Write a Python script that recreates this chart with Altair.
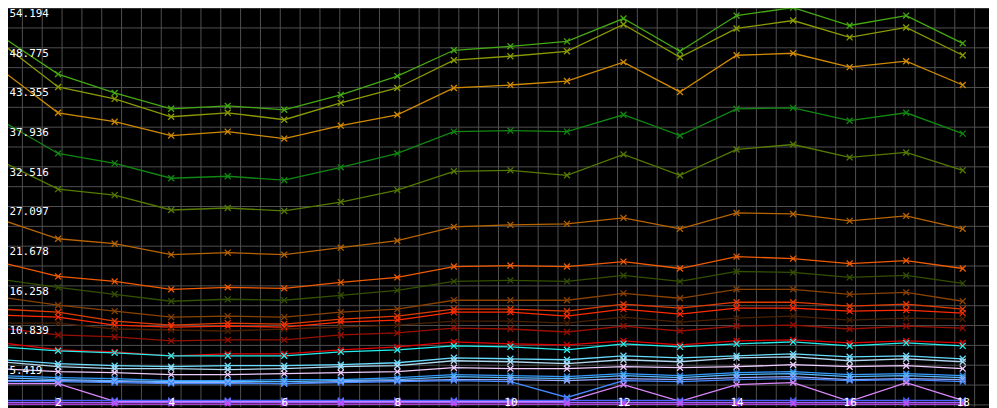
import altair as alt
import pandas as pd

# x positions of the samples
x_index = list(range(1, 19))

# series values
s01 = [50.265, 45.117, 42.542, 40.375, 40.781, 40.239, 42.271, 44.846, 48.368, 48.910, 49.588, 52.704, 48.233, 53.110, 54.194, 51.755, 53.110, 49.317]
s02 = [49.317, 43.355, 41.729, 39.291, 39.833, 38.884, 41.187, 43.220, 47.013, 47.555, 48.233, 51.891, 47.420, 51.349, 52.433, 50.129, 51.484, 47.691]
s03 = [45.658, 39.833, 38.613, 36.716, 37.258, 36.310, 38.071, 39.562, 43.220, 43.626, 44.168, 46.742, 42.678, 47.691, 47.962, 46.065, 46.878, 43.626]
s04 = [38.749, 34.278, 32.923, 30.891, 31.162, 30.620, 32.381, 34.278, 37.258, 37.394, 37.258, 39.562, 36.716, 40.375, 40.510, 38.749, 39.833, 36.987]
s05 = [33.194, 29.400, 28.587, 26.555, 26.826, 26.420, 27.639, 29.265, 31.839, 31.974, 31.297, 34.142, 31.297, 34.820, 35.497, 33.736, 34.413, 31.974]
s06 = [25.200, 22.626, 21.949, 20.458, 20.729, 20.458, 21.407, 22.355, 24.252, 24.523, 24.658, 25.471, 23.981, 26.149, 26.013, 25.065, 25.742, 23.981]
s07 = [19.374, 17.478, 16.800, 15.716, 15.987, 15.852, 16.665, 17.342, 18.832, 18.968, 18.832, 19.510, 18.561, 20.187, 19.916, 19.239, 19.645, 18.561]
s08 = [17.071, 15.987, 15.039, 14.090, 14.361, 14.226, 14.903, 15.581, 16.800, 16.936, 16.800, 17.613, 16.800, 18.155, 18.020, 17.342, 17.613, 16.529]
s09 = [14.632, 13.549, 12.736, 11.923, 12.058, 11.923, 12.600, 13.007, 14.226, 14.226, 14.226, 15.174, 14.497, 15.716, 15.716, 15.039, 15.310, 14.090]
s10 = [13.007, 12.600, 11.381, 10.839, 11.110, 10.974, 11.652, 12.058, 13.007, 13.007, 12.736, 13.684, 13.142, 13.955, 13.955, 13.413, 13.684, 13.007]
s11 = [12.194, 11.923, 10.839, 10.568, 10.703, 10.568, 11.245, 11.516, 12.600, 12.600, 12.058, 13.007, 12.329, 13.142, 13.142, 12.736, 12.871, 12.465]
s12 = [11.110, 11.110, 10.297, 10.161, 10.026, 10.297, 10.568, 10.839, 11.381, 11.381, 11.110, 11.923, 11.245, 11.787, 12.058, 11.516, 11.787, 11.652]
s13 = [10.432, 9.484, 9.213, 8.671, 8.807, 8.807, 9.484, 9.755, 10.432, 10.297, 9.890, 10.703, 10.026, 10.703, 10.839, 10.297, 10.703, 10.432]
s14 = [8.400, 7.452, 7.181, 6.639, 6.910, 6.910, 7.452, 7.858, 8.536, 8.265, 8.129, 8.671, 8.129, 8.671, 8.807, 8.400, 8.671, 8.400]
s15 = [7.858, 7.316, 7.045, 6.639, 6.639, 6.639, 7.181, 7.452, 7.994, 7.858, 7.452, 8.265, 7.858, 8.265, 8.536, 7.994, 8.400, 7.994]
s16 = [6.097, 5.555, 5.284, 5.148, 5.284, 5.284, 5.419, 5.690, 6.368, 6.232, 6.097, 6.639, 6.368, 6.639, 6.910, 6.503, 6.639, 6.232]
s17 = [5.826, 5.148, 4.877, 4.877, 4.742, 4.877, 5.148, 5.284, 5.961, 5.826, 5.555, 6.097, 5.826, 6.368, 6.503, 5.961, 6.232, 5.826]
s18 = [4.877, 4.471, 4.336, 4.065, 4.065, 4.200, 4.336, 4.471, 5.013, 4.877, 4.877, 5.148, 5.013, 5.148, 5.419, 5.148, 5.284, 4.877]
s19 = [3.929, 3.658, 3.523, 3.252, 3.252, 3.387, 3.387, 3.658, 4.065, 3.929, 3.794, 4.200, 3.929, 4.336, 4.471, 4.065, 4.200, 3.929]
s20 = [3.658, 3.387, 3.252, 3.116, 3.116, 3.116, 3.252, 3.387, 3.794, 3.658, 3.523, 3.929, 3.658, 4.065, 4.200, 3.794, 3.929, 3.658]
s21 = [3.252, 3.252, 3.116, 2.981, 2.981, 2.845, 3.116, 3.252, 3.387, 3.387, 3.252, 3.523, 3.387, 3.658, 3.794, 3.387, 3.523, 3.387]
s22 = [3.116, 3.116, 2.981, 2.845, 2.845, 2.845, 2.981, 3.116, 3.252, 3.116, 0.948, 3.252, 3.116, 3.387, 3.523, 3.252, 3.387, 3.116]
s23 = [2.845, 2.845, 0.406, 0.406, 0.406, 0.406, 0.406, 0.406, 0.406, 0.406, 0.406, 2.710, 0.406, 2.710, 2.981, 0.406, 2.981, 0.542]
s24 = [0.542, 0.542, 0.542, 0.542, 0.542, 0.542, 0.542, 0.542, 0.542, 0.542, 0.542, 0.542, 0.542, 0.542, 0.542, 0.542, 0.542, 0.542]
s25 = [0.271, 0.271, 0.271, 0.271, 0.271, 0.271, 0.271, 0.271, 0.271, 0.271, 0.271, 0.271, 0.271, 0.271, 0.271, 0.271, 0.271, 0.271]
s26 = [0.040, 0.040, 0.040, 0.040, 0.040, 0.040, 0.040, 0.040, 0.040, 0.040, 0.040, 0.040, 0.040, 0.040, 0.040, 0.040, 0.040, 0.040]

series_values = [s01, s02, s03, s04, s05, s06, s07, s08, s09, s10, s11, s12, s13,
                 s14, s15, s16, s17, s18, s19, s20, s21, s22, s23, s24, s25, s26]
series_names = ["S%02d" % (i + 1) for i in range(len(series_values))]
series_colors = [
    "#44aa11", "#8a9a00", "#d08a00", "#118811", "#557a00", "#b86400",
    "#f05a00", "#335000", "#8a4200", "#e03a00", "#ff2a00", "#4a2000",
    "#991000", "#e00000", "#22eeee", "#66ddff", "#b0d8f0", "#eeccff",
    "#3399ff", "#55bbff", "#99aaff", "#4488ff", "#dd88ff", "#4466ff",
    "#9966ff", "#cc44ff",
]

# axis tick labels
x_tick_labels = [2, 4, 6, 8, 10, 12, 14, 16, 18]
y_tick_labels = [5.4194, 10.8388, 16.2582, 21.6776, 27.097, 32.5164, 37.9358, 43.3552, 48.7746, 54.194]

rows = []
for name, vals in zip(series_names, series_values):
    for xi, v in zip(x_index, vals):
        rows.append({"series": name, "x": xi, "value": v})
df = pd.DataFrame(rows)

# grid every 20 px
x_grid = [1 + 20 * k / 57 for k in range(50)]
y_grid = [2.7097 * k for k in range(21)]

x_scale = alt.Scale(domain=[0.97368, 18.4649], nice=False, zero=False)
y_scale = alt.Scale(domain=[-0.271, 55.007], nice=False, zero=False)
color = alt.Color("series:N", scale=alt.Scale(domain=series_names, range=series_colors), legend=None)

font = "DejaVu Sans Mono"

lines = alt.Chart(df).mark_line(strokeWidth=1.3, clip=True).encode(
    x=alt.X("x:Q", scale=x_scale, axis=alt.Axis(values=x_grid, grid=True, labels=False, ticks=False,
                                                 domain=False, gridColor="#505050", gridWidth=1,
                                                 title=None, orient="bottom")),
    y=alt.Y("value:Q", scale=y_scale, axis=alt.Axis(values=y_grid, grid=True, labels=False, ticks=False,
                                                     domain=False, gridColor="#505050", gridWidth=1,
                                                     title=None, orient="left")),
    color=color,
)

points = alt.Chart(df).mark_point(shape="M-1,-1L1,1M-1,1L1,-1", filled=False, size=36,
                                  strokeWidth=1.3, opacity=1, clip=True).encode(
    x=alt.X("x:Q", scale=x_scale, axis=alt.Axis(values=x_tick_labels, format="d", grid=False, ticks=False,
                                                 tickSize=0, domain=False, labelColor="white", labelFont=font,
                                                 labelFontSize=11, labelBaseline="alphabetic", labelPadding=-1,
                                                 labelFlush=False, labelOverlap=False, orient="bottom",
                                                 zindex=1, title=None)),
    y=alt.Y("value:Q", scale=y_scale, axis=alt.Axis(values=y_tick_labels, format=".3f", grid=False, ticks=False,
                                                     tickSize=0, domain=False, labelColor="white", labelFont=font,
                                                     labelFontSize=11, labelAlign="left", labelBaseline="top",
                                                     labelPadding=-9, labelFlush=False, labelOverlap=False,
                                                     orient="left", zindex=1, title=None)),
    color=color,
)

chart = alt.layer(lines, points).resolve_axis(x="independent", y="independent").properties(
    width=997, height=408,
    padding={"left": -8, "top": -8, "right": 0, "bottom": 0},
    autosize=alt.AutoSizeParams(type="none"),
    background="black",
).configure_view(strokeWidth=0)

chart.save("out.html", embed_options={"renderer": "svg", "actions": False})
